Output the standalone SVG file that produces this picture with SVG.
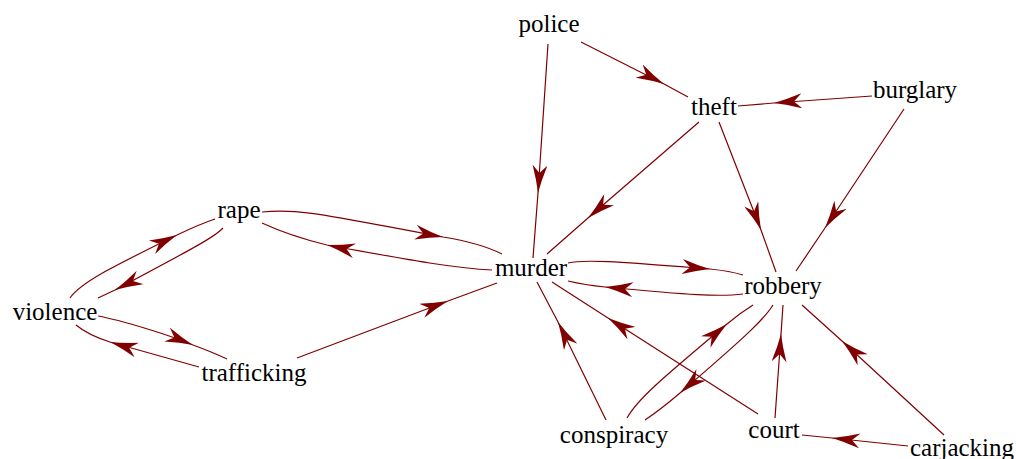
<svg xmlns="http://www.w3.org/2000/svg" width="1016" height="459" viewBox="0 0 1016 459">
<style>
.e{fill:none;stroke:#800000;stroke-width:1.2;marker-mid:url(#ah)}
.n text{font-family:"Liberation Serif","Times New Roman",serif;font-size:25px;fill:#000;text-anchor:middle}
</style>
<defs>
<marker id="ah" viewBox="0 0 28 15" refX="28" refY="7.5" markerWidth="28" markerHeight="15" markerUnits="userSpaceOnUse" orient="auto">
<path d="M0,0 Q15,5 28,7.5 Q15,10 0,15 L8,7.5 Z" fill="#800000"/>
</marker>
</defs>
<rect width="1016" height="459" fill="#fff"/>
<g id="edges">
<path class="e" d="M581,42 L664,84 L688,97"/>
<path class="e" d="M548,44 L538,193 L533,258"/>
<path class="e" d="M872,96 L774,103 L738,106"/>
<path class="e" d="M904,109 L825,228 L796,271"/>
<path class="e" d="M699,122 L588,218 L547,254"/>
<path class="e" d="M719,122 L761,230 L776,272"/>
<path class="e" d="M262,212 C300,208 330,216 443,237 Q480,243 502,254"/>
<path class="e" d="M492,270 C450,268 400,258 327,245 Q290,236 262,223"/>
<path class="e" d="M70,298 C80,283 110,268 177,235 Q200,224 215,219"/>
<path class="e" d="M223,228 C215,237 190,250 115,290 L98,298"/>
<path class="e" d="M98,316 C120,320 170,335 193,345 Q212,352 227,359"/>
<path class="e" d="M199,367 L110,342 Q88,335 76,325"/>
<path class="e" d="M297,358 L448,301 L497,283"/>
<path class="e" d="M568,263 C585,259 620,262 710,269 Q730,271 743,275"/>
<path class="e" d="M743,294 C720,297 690,295 605,287 Q585,285 568,281"/>
<path class="e" d="M606,420 L558,322 L537,282"/>
<path class="e" d="M758,414 L608,318 L552,282"/>
<path class="e" d="M627,418 C637,400 660,380 727,324 Q740,313 753,305"/>
<path class="e" d="M773,305 C765,318 750,333 680,393 Q660,410 645,420"/>
<path class="e" d="M775,418 L781,334 L783,305"/>
<path class="e" d="M944,435 L842,341 L802,305"/>
<path class="e" d="M908,446 L832,438 L802,435"/>
</g>
<g id="police" class="n"><text x="549" y="32">police</text></g>
<g id="theft" class="n"><text x="714" y="115">theft</text></g>
<g id="burglary" class="n"><text x="915" y="98">burglary</text></g>
<g id="rape" class="n"><text x="239" y="218">rape</text></g>
<g id="murder" class="n"><text x="531" y="276">murder</text></g>
<g id="robbery" class="n"><text x="783" y="294">robbery</text></g>
<g id="violence" class="n"><text x="55" y="320">violence</text></g>
<g id="trafficking" class="n"><text x="254" y="381">trafficking</text></g>
<g id="conspiracy" class="n"><text x="614" y="443">conspiracy</text></g>
<g id="court" class="n"><text x="774" y="438">court</text></g>
<g id="carjacking" class="n"><text x="962" y="456">carjacking</text></g>
</svg>
